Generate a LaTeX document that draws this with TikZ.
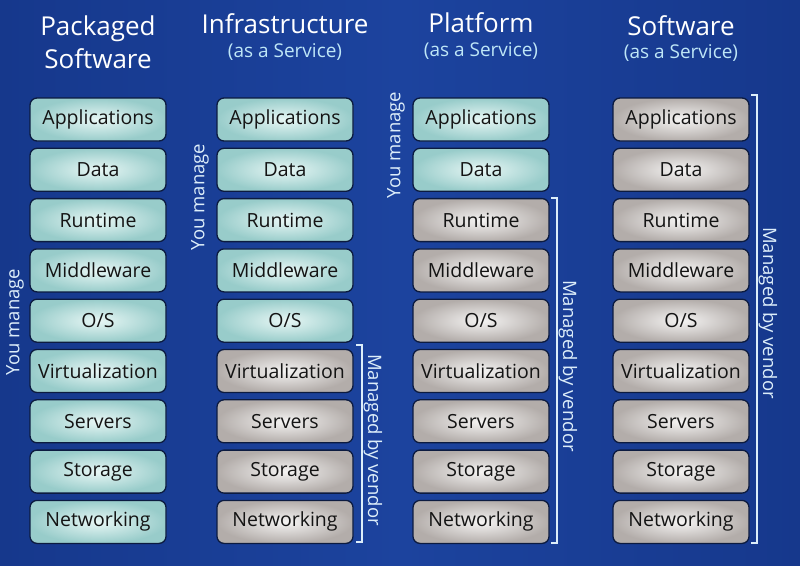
\documentclass[tikz,border=0pt]{standalone}
\usepackage{fontspec}
\setmainfont{Open Sans}
\definecolor{bgdark}{HTML}{16388C}
\definecolor{bglight}{HTML}{1C439E}
\definecolor{tealin}{HTML}{E8F7F5}
\definecolor{tealout}{HTML}{98CCCA}
\definecolor{greyin}{HTML}{F5F4F3}
\definecolor{greyout}{HTML}{B3ADAA}
\definecolor{boxedge}{HTML}{0C1B40}
\definecolor{subcol}{HTML}{BEE6F7}
\definecolor{lblcol}{HTML}{DDEEFA}
\begin{document}
\begin{tikzpicture}[x=1pt,y=-1pt,
  box/.style={rounded corners=7pt, minimum width=136pt, minimum height=43pt,
    draw=boxedge, line width=1.3pt, inner sep=0pt, text=black!92,
    font=\fontsize{19.5}{22}\selectfont},
  mine/.style={box, shading=radial, inner color=tealin, outer color=tealout},
  vend/.style={box, shading=radial, inner color=greyin, outer color=greyout},
  title/.style={anchor=base, text=white, font=\fontsize{26}{30}\selectfont, inner sep=0pt},
  subt/.style={anchor=base, text=subcol, font=\fontsize{19}{22}\selectfont, inner sep=0pt},
  mlabel/.style={text=lblcol, font=\fontsize{18.5}{22}\selectfont, inner sep=0pt},
  brk/.style={draw=lblcol, line width=1.6pt}
]
\useasboundingbox (0,0) rectangle (800,565);
\shade[left color=bgdark, right color=bgdark, middle color=bglight] (0,0) rectangle (800,565);

% titles
\node[title] (t1a) at (98,35) {Packaged};
\node[title] (t1b) at (98,68) {Software};
\node[title] (t2) at (285,33) {Infrastructure};
\node[subt] (s2) at (285,57) {(as a Service)};
\node[title] (t3) at (481,32) {Platform};
\node[subt] (s3) at (481,56) {(as a Service)};
\node[title] (t4) at (681,35) {Software};
\node[subt] (s4) at (681,58) {(as a Service)};

% stacks
\foreach \c/\x/\n in {1/98/9, 2/285/5, 3/481/2, 4/681/0} {
  \foreach \t [count=\r] in {Applications,Data,Runtime,Middleware,{O/S},Virtualization,Servers,Storage,Networking} {
    \ifnum\r>\n
      \node[vend] (c\c r\r) at (\x,{119.5+50.3*(\r-1)}) {\t};
    \else
      \node[mine] (c\c r\r) at (\x,{119.5+50.3*(\r-1)}) {\t};
    \fi
  }
}

% you manage
\node[mlabel, rotate=90] (ym1) at (15,322) {You manage};
\node[mlabel, rotate=90] (ym2) at (200,197) {You manage};
\node[mlabel, rotate=90] (ym3) at (396,145) {You manage};

% managed by vendor brackets
\coordinate (b2t) at (362,345); \coordinate (b2b) at (362,542);
\coordinate (b3t) at (557,198); \coordinate (b3b) at (557,543);
\coordinate (b4t) at (757,95);  \coordinate (b4b) at (757,543);
\foreach \b in {2,3,4} {
  \draw[brk] ([xshift=-6pt]b\b t) -- (b\b t) -- (b\b b) -- ([xshift=-6pt]b\b b);
}
\node[mlabel, rotate=-90] (mv2) at (373,440) {Managed by vendor};
\node[mlabel, rotate=-90] (mv3) at (568,366) {Managed by vendor};
\node[mlabel, rotate=-90] (mv4) at (768,313) {Managed by vendor};
\end{tikzpicture}
\end{document}
